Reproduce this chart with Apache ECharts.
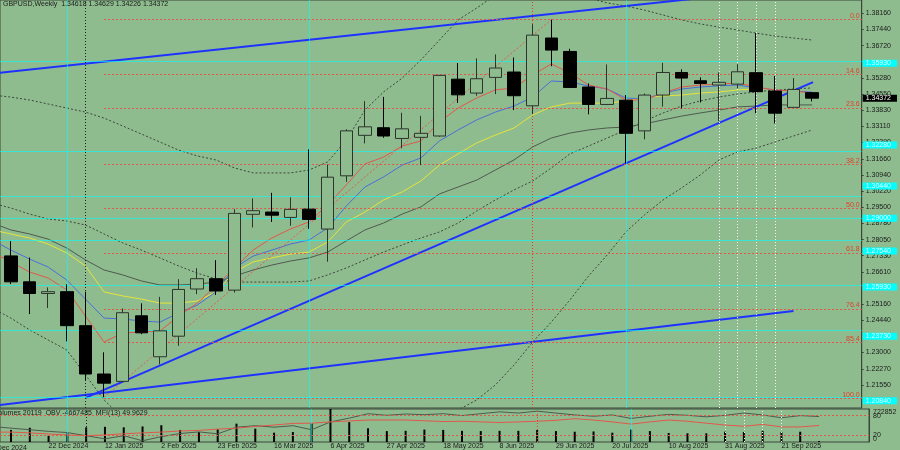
<!DOCTYPE html>
<html>
<head>
<meta charset="utf-8">
<title>GBPUSD,Weekly</title>
<script src="https://cdn.jsdelivr.net/npm/echarts@6/dist/echarts.min.js"></script>
<style>
  html, body { margin: 0; padding: 0; background: #8fbc8f; }
  #chart { width: 900px; height: 450px; }
</style>
</head>
<body>
<div id="chart"></div>
<script>
// weekly bars, index 0 = 1 Dec 2024 (just off the left edge)
var weeks = ['1 Dec 2024', '8 Dec 2024', '15 Dec 2024', '22 Dec 2024', '29 Dec 2024',
  '5 Jan 2025', '12 Jan 2025', '19 Jan 2025', '26 Jan 2025', '2 Feb 2025', '9 Feb 2025',
  '16 Feb 2025', '23 Feb 2025', '2 Mar 2025', '9 Mar 2025', '16 Mar 2025', '23 Mar 2025',
  '30 Mar 2025', '6 Apr 2025', '13 Apr 2025', '20 Apr 2025', '27 Apr 2025', '4 May 2025',
  '11 May 2025', '18 May 2025', '25 May 2025', '1 Jun 2025', '8 Jun 2025', '15 Jun 2025',
  '22 Jun 2025', '29 Jun 2025', '6 Jul 2025', '13 Jul 2025', '20 Jul 2025', '27 Jul 2025',
  '3 Aug 2025', '10 Aug 2025', '17 Aug 2025', '24 Aug 2025', '31 Aug 2025', '7 Sep 2025',
  '14 Sep 2025', '21 Sep 2025', '28 Sep 2025', '5 Oct 2025'];
var dateLabelIdx = [3, 6, 9, 12, 15, 18, 21, 24, 27, 30, 33, 36, 39, 42];

// [open, close, low, high] from 8 Dec 2024
var candles = [
  [1.2732, 1.2616, 1.2606, 1.2798], [1.2616, 1.2564, 1.2472, 1.2725], [1.2564, 1.2572, 1.2499, 1.2591],
  [1.2572, 1.2420, 1.2350, 1.2605], [1.2420, 1.2204, 1.2177, 1.2572], [1.2204, 1.2163, 1.2100, 1.2301],
  [1.2171, 1.2478, 1.2168, 1.2497], [1.2464, 1.2388, 1.2382, 1.2520], [1.2281, 1.2397, 1.2247, 1.2549],
  [1.2373, 1.2582, 1.2330, 1.2628], [1.2584, 1.2630, 1.2561, 1.2677], [1.2630, 1.2575, 1.2557, 1.2713],
  [1.2579, 1.2922, 1.2568, 1.2941], [1.2918, 1.2934, 1.2859, 1.2989], [1.2928, 1.2914, 1.2884, 1.3014],
  [1.2904, 1.2940, 1.2867, 1.2994], [1.2941, 1.2895, 1.2853, 1.3208], [1.2852, 1.3084, 1.2706, 1.3141],
  [1.3090, 1.3291, 1.3063, 1.3298], [1.3271, 1.3309, 1.3235, 1.3424], [1.3305, 1.3268, 1.3260, 1.3443],
  [1.3257, 1.3300, 1.3213, 1.3372], [1.3262, 1.3280, 1.3138, 1.3358], [1.3268, 1.3539, 1.3265, 1.3541],
  [1.3522, 1.3452, 1.3416, 1.3594], [1.3460, 1.3524, 1.3448, 1.3615], [1.3530, 1.3572, 1.3455, 1.3633],
  [1.3554, 1.3448, 1.3384, 1.3619], [1.3403, 1.3719, 1.3366, 1.3768], [1.3706, 1.3652, 1.3580, 1.3788],
  [1.3646, 1.3485, 1.3484, 1.3658], [1.3487, 1.3409, 1.3365, 1.3503], [1.3409, 1.3436, 1.3406, 1.3588],
  [1.3428, 1.3280, 1.3146, 1.3451], [1.3291, 1.3451, 1.3253, 1.3458], [1.3451, 1.3552, 1.3399, 1.3595],
  [1.3552, 1.3527, 1.3391, 1.3566], [1.3515, 1.3503, 1.3418, 1.3530], [1.3496, 1.3508, 1.3335, 1.3552],
  [1.3500, 1.3555, 1.3481, 1.3589], [1.3551, 1.3466, 1.3370, 1.3728], [1.3469, 1.3370, 1.3324, 1.3536],
  [1.3396, 1.3476, 1.3395, 1.3527], [1.34618, 1.34372, 1.34226, 1.34629]
];

// moving averages and bands, index 0..44
var maRed = [1.2749, 1.2705, 1.2660, 1.2633, 1.2580, 1.2463, 1.2347, 1.2387, 1.2392, 1.2396,
  1.2463, 1.2521, 1.2597, 1.2678, 1.2758, 1.2812, 1.2852, 1.2884, 1.2960, 1.3049,
  1.3143, 1.3174, 1.3223, 1.3246, 1.3331, 1.3393, 1.3438, 1.3474, 1.3483, 1.3541,
  1.3590, 1.3550, 1.3496, 1.3478, 1.3429, 1.3429, 1.3460, 1.3487, 1.3496, 1.3500,
  1.3505, 1.3487, 1.3474, 1.3469, 1.3460];
var maBlue = [1.2803, 1.2758, 1.2718, 1.2682, 1.2624, 1.2539, 1.2454, 1.2450, 1.2441, 1.2436,
  1.2477, 1.2512, 1.2571, 1.2678, 1.2731, 1.2758, 1.2785, 1.2803, 1.2857, 1.2955,
  1.3040, 1.3085, 1.3138, 1.3170, 1.3246, 1.3295, 1.3340, 1.3375, 1.3402, 1.3442,
  1.3514, 1.3509, 1.3492, 1.3478, 1.3438, 1.3433, 1.3460, 1.3478, 1.3487, 1.3492,
  1.3496, 1.3483, 1.3474, 1.3469, 1.3465];
var maYellow = [1.2848, 1.2830, 1.2812, 1.2785, 1.2745, 1.2687, 1.2571, 1.2553, 1.2539, 1.2521,
  1.2521, 1.2530, 1.2571, 1.2660, 1.2705, 1.2723, 1.2740, 1.2749, 1.2794, 1.2884,
  1.2928, 1.2982, 1.3018, 1.3067, 1.3138, 1.3188, 1.3237, 1.3272, 1.3304, 1.3362,
  1.3398, 1.3415, 1.3415, 1.3415, 1.3424, 1.3442, 1.3447, 1.3451, 1.3460, 1.3465,
  1.3474, 1.3478, 1.3474, 1.3469, 1.3465];
var maGrey = [1.2879, 1.2848, 1.2830, 1.2807, 1.2767, 1.2714, 1.2669, 1.2647, 1.2620, 1.2602,
  1.2602, 1.2606, 1.2615, 1.2642, 1.2669, 1.2691, 1.2709, 1.2723, 1.2749, 1.2799,
  1.2848, 1.2879, 1.2919, 1.2951, 1.3009, 1.3040, 1.3071, 1.3116, 1.3161, 1.3219,
  1.3259, 1.3281, 1.3295, 1.3304, 1.3308, 1.3322, 1.3340, 1.3357, 1.3371, 1.3384,
  1.3398, 1.3402, 1.3407, 1.3407, 1.3407];
var bbMid = [1.2968, 1.2946, 1.2919, 1.2897, 1.2888, 1.2870, 1.2830, 1.2790, 1.2758, 1.2723,
  1.2687, 1.2655, 1.2629, 1.2615, 1.2615, 1.2615, 1.2615, 1.2620, 1.2647, 1.2678,
  1.2714, 1.2749, 1.2781, 1.2812, 1.2839, 1.2879, 1.2933, 1.2982, 1.3027, 1.3067,
  1.3125, 1.3188, 1.3223, 1.3259, 1.3295, 1.3335, 1.3371, 1.3402, 1.3425, 1.3442,
  1.3456, 1.3465, 1.3474, 1.3478, 1.3483];
var bbUp = [1.3451, 1.3442, 1.3429, 1.3411, 1.3393, 1.3375, 1.3348, 1.3313, 1.3277, 1.3241,
  1.3205, 1.3179, 1.3161, 1.3125, 1.3103, 1.3103, 1.3103, 1.3116, 1.3152, 1.3250,
  1.3384, 1.3465, 1.3527, 1.3608, 1.3697, 1.3787, 1.3840, 1.3898, 1.3943, 1.3956,
  1.3943, 1.3912, 1.3885, 1.3863, 1.3849, 1.3831, 1.3809, 1.3787, 1.3769, 1.3755,
  1.3742, 1.3728, 1.3715, 1.3706, 1.3697];
var bbLow = [1.2499, 1.2454, 1.2401, 1.2356, 1.2311, 1.2200, 1.2088, 1.2007, 1.1976, 1.1954,
  1.1945, 1.1945, 1.1954, 1.1976, 1.1998, 1.2007, 1.2007, 1.1998, 1.1976, 1.1954,
  1.1954, 1.1954, 1.1963, 1.1976, 1.2007, 1.2043, 1.2088, 1.2155, 1.2244, 1.2347,
  1.2436, 1.2535, 1.2642, 1.2736, 1.2839, 1.2915, 1.2982, 1.3036, 1.3094, 1.3161,
  1.3197, 1.3214, 1.3241, 1.3268, 1.3295];

// drawn objects: [week index, price]
var trendUpper = [[0, 1.3547], [44, 1.3938]];
var trendRising = [[5, 1.2097], [44.05, 1.3509]];
var trendFlat = [[0, 1.2061], [43, 1.2486]];
var zigzag = [[6, 1.2100], [30, 1.3788]];
var fibStart = 6;
var fibNames = ['0.0', '14.6', '23.6', '38.2', '50.0', '61.8', '76.4', '85.4', '100.0'];
var fibPrices = [1.3790, 1.3544, 1.3394, 1.3141, 1.2943, 1.2745, 1.2495, 1.2344, 1.2095];
var cyanLevels = [1.3593, 1.3228, 1.3044, 1.2900, 1.2754, 1.2593, 1.2373, 1.2084];
var cyanWeeks = [4, 17, 34];
var markWeekBlack = 5;
var markWeekRed = 29;
var whiteWeeks = [39, 40, 41, 42];
var lastPrice = 1.34372;
var priceTicks = [1.3816, 1.3744, 1.3672, 1.3528, 1.3455, 1.3383, 1.3311, 1.3239, 1.3166, 1.3094,
  1.3022, 1.2950, 1.2878, 1.2805, 1.2733, 1.2661, 1.2516, 1.2444, 1.2300, 1.2227, 1.2155];

// indicator window
var volumes = [265000, 312000, 137000, 190000, 321000, 333000, 321000, 341000, 368000, 265000,
  218000, 280000, 402000, 292000, 204000, 218000, 408000, 722852, 435000, 300000,
  239000, 245000, 272000, 265000, 245000, 239000, 245000, 245000, 265000, 239000,
  225000, 231000, 204000, 272000, 239000, 198000, 190000, 190000, 225000, 218000,
  245000, 218000, 225000, 20119];
var obv = [-5625000, -5777000, -5930000, -6083000, -6200000, -6497000, -6803000, -6497000, -6983000,
  -6587000, -6290000, -6137000, -6317000, -5687000, -5543000, -5687000, -5543000, -5930000,
  -5183000, -4823000, -4400000, -4553000, -4427000, -4490000, -4400000, -4580000, -4400000,
  -4220000, -4337000, -4157000, -4337000, -4517000, -4643000, -4517000, -4850000, -4643000,
  -4463000, -4553000, -4697000, -4553000, -4337000, -4517000, -4787000, -4580000, -4667485];
var mfi = [30.0, 30.0, 27.7, 24.3, 21.4, 19.1, 21.4, 24.9, 27.7, 30.0, 33.4, 35.1, 39.1, 41.9, 47.1,
  51.4, 56.3, 57.1, 60.9, 63.7, 66.6, 66.6, 66.6, 64.3, 62.0, 62.9, 60.9, 59.1, 60.9, 62.9,
  65.7, 70.6, 66.6, 60.9, 54.3, 60.9, 66.6, 62.9, 57.1, 51.4, 47.7, 53.4, 45.7, 45.7, 49.9629];
var volTop = 722852;

var BG = '#8fbc8f';
var FRAME = '#3a463a';
var TEXT = '#1a1a1a';
var FONT = 'Liberation Sans';
var CYAN = 'rgba(0, 255, 255, 0.6)';
var X_MIN = 0.4146, X_MAX = 46.66;

var chart = echarts.init(document.getElementById('chart'));

function pairs(arr, from) {
  return arr.map(function (v, i) { return [i + (from || 0), v]; });
}

function line(arr, color, dotted) {
  return {
    type: 'line', xAxisIndex: 0, yAxisIndex: 0, data: pairs(arr), symbol: 'none', silent: true, z: 3,
    lineStyle: { color: color, width: 1, type: dotted ? [2, 2] : 'solid' }
  };
}

function near(v, list) {
  for (var i = 0; i < list.length; i++) {
    if (Math.abs(list[i] - v) < 1e-7) return true;
  }
  return false;
}

function verticals() {
  var out = cyanWeeks.map(function (w) {
    return { xAxis: w, lineStyle: { color: CYAN, type: 'solid', width: 1 } };
  });
  out.push({ xAxis: markWeekBlack, lineStyle: { color: '#202020', type: [1, 2], width: 1 } });
  out.push({ xAxis: markWeekRed, lineStyle: { color: '#e0402a', type: [1, 2], width: 1 } });
  whiteWeeks.forEach(function (w) {
    out.push({ xAxis: w, lineStyle: { color: '#f4f4f4', type: [1, 2], width: 1 } });
  });
  return out;
}

var fibMarks = fibPrices.map(function (p, i) {
  return [{ coord: [fibStart, p], name: fibNames[i] }, { coord: [X_MAX, p] }];
});

var cyanMarks = cyanLevels.map(function (p) { return { yAxis: p }; });

var option = {
  animation: false,
  backgroundColor: BG,
  textStyle: { fontFamily: FONT },
  title: {
    text: 'GBPUSD,Weekly  1.34618 1.34629 1.34226 1.34372',
    left: 3, top: 1, padding: 0,
    textStyle: { fontSize: 7, fontWeight: 'normal', color: TEXT, fontFamily: FONT }
  },
  graphic: [{
    type: 'text', x: -6, y: 410, silent: true,
    style: { text: 'Volumes 20119  OBV -4667485  MFI(13) 49.9629', fill: TEXT, font: '7px ' + FONT }
  }, {
    type: 'text', x: -9, y: 445, silent: true,
    style: { text: weeks[0], fill: TEXT, font: '7px ' + FONT }
  }],
  grid: [
    { left: 0, right: 31, top: 0, height: 408, show: true, borderColor: FRAME, borderWidth: 1, backgroundColor: BG },
    { left: 0, right: 31, top: 409, height: 35, show: true, borderColor: FRAME, borderWidth: 1, backgroundColor: BG }
  ],
  xAxis: [
    { type: 'value', gridIndex: 0, min: X_MIN, max: X_MAX, show: false },
    {
      type: 'value', gridIndex: 1, min: X_MIN, max: X_MAX,
      axisLine: { show: false }, axisTick: { show: false }, splitLine: { show: false },
      axisLabel: {
        customValues: dateLabelIdx, margin: 1, align: 'left', verticalAlign: 'top',
        fontSize: 7, fontFamily: FONT, color: TEXT,
        formatter: function (v) { return weeks[Math.round(v)] || ''; }
      }
    }
  ],
  yAxis: [
    {
      type: 'value', gridIndex: 0, position: 'right', min: 1.2052, max: 1.3876,
      splitLine: { show: false },
      axisLine: { show: true, lineStyle: { color: FRAME } },
      axisTick: { show: true, length: 2, customValues: priceTicks, lineStyle: { color: FRAME } },
      axisLabel: {
        customValues: priceTicks.concat(cyanLevels, [lastPrice]), margin: 1,
        formatter: function (v) {
          var t = v.toFixed(5);
          if (Math.abs(v - lastPrice) < 1e-7) return '{k|' + t + '}';
          if (near(v, cyanLevels)) return '{c|' + t + '}';
          return '{n|' + t + '}';
        },
        rich: {
          n: { fontSize: 7, fontFamily: FONT, color: TEXT, padding: [0, 0, 0, 3] },
          c: { fontSize: 7, fontFamily: FONT, color: '#dcffff', backgroundColor: '#00ffff', lineHeight: 6, padding: [0, 6, 0, 3] },
          k: { fontSize: 7, fontFamily: FONT, color: '#ffffff', backgroundColor: '#000000', lineHeight: 6, padding: [0, 6, 0, 3] }
        }
      }
    },
    {
      type: 'value', gridIndex: 1, position: 'right', min: 0, max: 100,
      splitLine: { show: false },
      axisLine: { show: true, lineStyle: { color: FRAME } },
      axisTick: { show: false },
      axisLabel: {
        customValues: [20, 80], margin: 4, fontSize: 7, fontFamily: FONT, color: TEXT
      }
    },
    {
      type: 'value', gridIndex: 1, position: 'right', min: 0, max: volTop,
      splitLine: { show: false }, axisLine: { show: false }, axisTick: { show: false },
      axisLabel: {
        customValues: [0, volTop], margin: 4,
        formatter: function (v) { return v === 0 ? '{z|0}' : '{t|' + v + '}'; },
        rich: {
          z: { fontSize: 7, fontFamily: FONT, color: TEXT, padding: [0, 0, 5, 0] },
          t: { fontSize: 7, fontFamily: FONT, color: TEXT, padding: [6, 0, 0, 0] }
        }
      }
    },
    { type: 'value', gridIndex: 1, min: -7100000, max: -3950000, show: false }
  ],
  series: [
    line(bbUp, '#3c463c', true),
    line(bbMid, '#3c463c', true),
    line(bbLow, '#3c463c', true),
    line(maGrey, '#4e5a4e', false),
    {
      type: 'line', xAxisIndex: 0, yAxisIndex: 0, data: pairs(maYellow), symbol: 'none', silent: true, z: 3,
      lineStyle: { color: '#e6e43a', width: 1 },
      markLine: {
        silent: true, symbol: 'none', label: { show: false },
        lineStyle: { color: CYAN, width: 1, type: 'solid' },
        data: cyanMarks
      }
    },
    line(maBlue, '#4a6fd6', false),
    line(maRed, '#e2574a', false),
    {
      type: 'line', xAxisIndex: 0, yAxisIndex: 0, data: zigzag, symbol: 'none', silent: true, z: 3,
      lineStyle: { color: '#e2574a', width: 1, type: [2, 2] },
      markLine: {
        silent: true, symbol: 'none',
        lineStyle: { color: '#e2574a', width: 1, type: [2, 2] },
        label: {
          show: true, position: 'insideEndTop', distance: [2, 0],
          formatter: '{b}', color: '#e0402a', fontSize: 7, fontFamily: FONT
        },
        data: fibMarks
      }
    },
    {
      type: 'line', xAxisIndex: 0, yAxisIndex: 0, data: trendUpper, symbol: 'none', silent: true, z: 4,
      lineStyle: { color: '#1e32ff', width: 2 }
    },
    {
      type: 'line', xAxisIndex: 0, yAxisIndex: 0, data: trendRising, symbol: 'none', silent: true, z: 4,
      lineStyle: { color: '#1e32ff', width: 2 }
    },
    {
      type: 'line', xAxisIndex: 0, yAxisIndex: 0, data: trendFlat, symbol: 'none', silent: true, z: 4,
      lineStyle: { color: '#1e32ff', width: 2 },
      markLine: { silent: true, symbol: 'none', label: { show: false }, data: verticals() }
    },
    {
      type: 'candlestick', xAxisIndex: 0, yAxisIndex: 0, z: 5,
      data: candles.map(function (c, i) { return [i + 1, c[0], c[1], c[2], c[3]]; }),
      encode: { x: 0, y: [1, 2, 3, 4] },
      barWidth: 13,
      itemStyle: { color: BG, color0: '#000000', borderColor: '#2c342c', borderColor0: '#000000', borderWidth: 1 }
    },
    {
      type: 'bar', xAxisIndex: 1, yAxisIndex: 2, data: pairs(volumes, 1), barWidth: 2, silent: true,
      itemStyle: { color: '#000000' },
      markLine: { silent: true, symbol: 'none', label: { show: false }, data: verticals() }
    },
    {
      type: 'line', xAxisIndex: 1, yAxisIndex: 3, data: pairs(obv), symbol: 'none', silent: true,
      lineStyle: { color: '#4e5a4e', width: 1 }
    },
    {
      type: 'line', xAxisIndex: 1, yAxisIndex: 1, data: pairs(mfi), symbol: 'none', silent: true,
      lineStyle: { color: '#e2574a', width: 1 },
      markLine: {
        silent: true, symbol: 'none', label: { show: false },
        lineStyle: { color: '#e2574a', width: 1, type: [2, 2] },
        data: [{ yAxis: 80 }, { yAxis: 20 }]
      }
    }
  ]
};

chart.setOption(option);
</script>
</body>
</html>
